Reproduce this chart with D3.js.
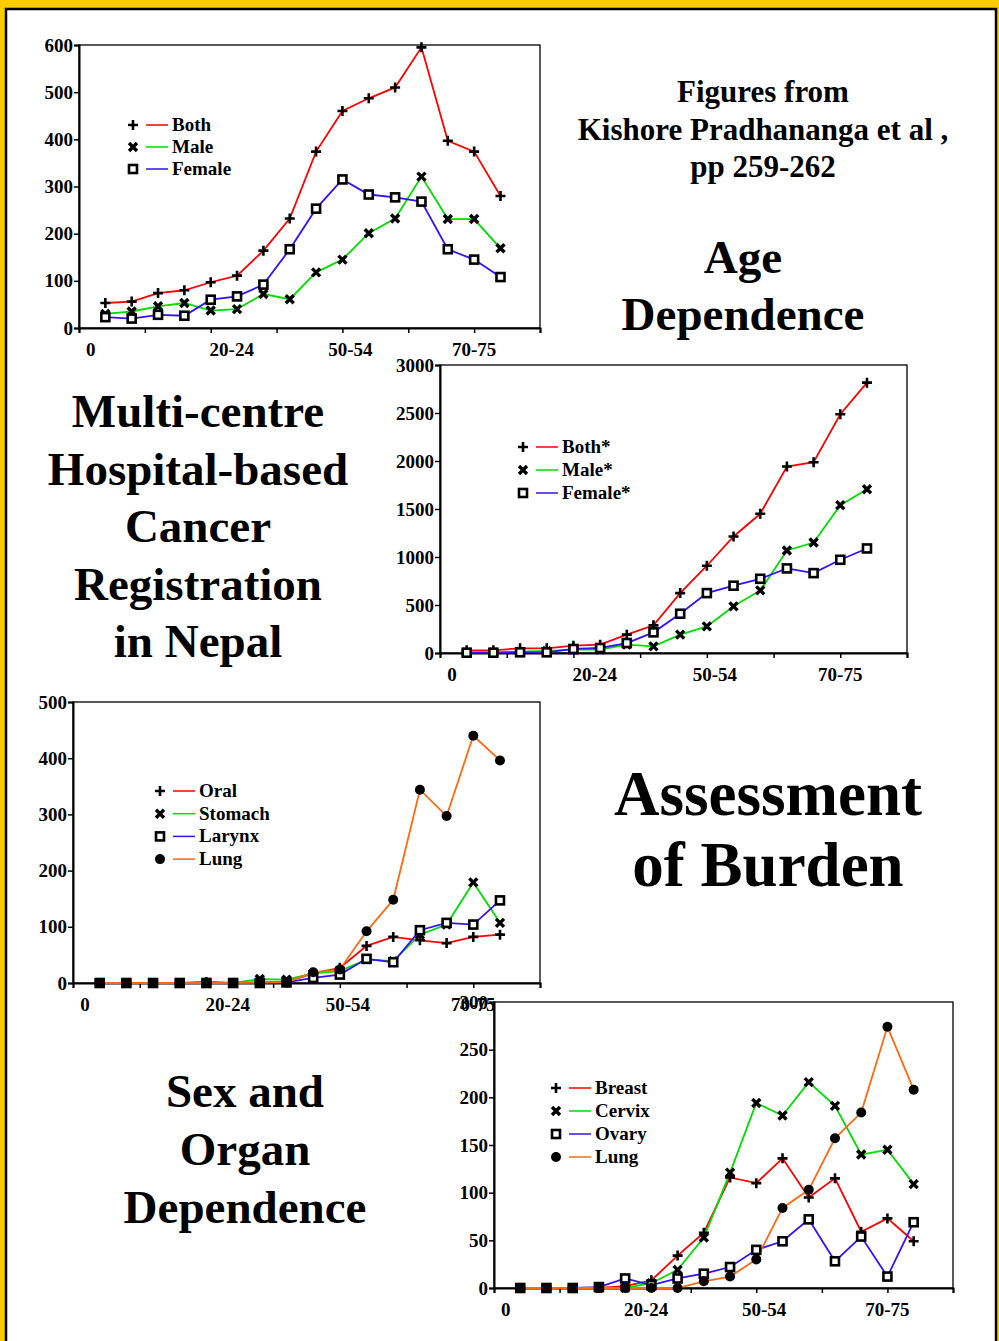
<!DOCTYPE html>
<html>
<head>
<meta charset="utf-8">
<script src="https://cdn.jsdelivr.net/npm/d3@7"></script>
<style>
  body { margin: 0; background: #ffcc00; }
  svg text { font-family: "Liberation Serif", "Times New Roman", serif; font-weight: bold; fill: #000; }
</style>
</head>
<body>
<svg id="slide" width="999" height="1341"></svg>
<script>
// age groups, 16 points per series
const ageLabels = ["0", "20-24", "50-54", "70-75"];
const ageLabelPos = [0.45, 5.8, 10.3, 15.0];

// Age dependence (counts)
const bothCases   = [53, 56, 74, 80, 97, 111, 164, 232, 374, 460, 487, 510, 595, 397, 374, 280];
const maleCases   = [30, 35, 46, 53, 37, 40, 72, 61, 118, 145, 201, 232, 321, 231, 231, 169];
const femaleCases = [23, 20, 28, 26, 60, 67, 92, 167, 253, 315, 283, 277, 268, 167, 145, 108];

// Age dependence (starred series)
const bothStar   = [28, 28, 49, 49, 76, 87, 191, 288, 624, 909, 1214, 1450, 1942, 1987, 2487, 2816];
const maleStar   = [7, 7, 14, 21, 35, 35, 87, 69, 191, 277, 486, 652, 1068, 1151, 1540, 1706];
const femaleStar = [3, 3, 7, 7, 42, 52, 104, 215, 409, 624, 701, 773, 881, 832, 971, 1089];

// Organ dependence, male
const oralM    = [0, 0, 0, 0, 2, 0, 1, 2, 17, 27, 66, 82, 76, 71, 82, 86];
const stomachM = [0, 0, 0, 0, 0, 0, 7, 6, 17, 21, 42, 39, 86, 104, 179, 107];
const larynxM  = [0, 0, 0, 0, 0, 0, 0, 1, 9, 15, 43, 37, 94, 107, 104, 147];
const lungM    = [0, 0, 0, 0, 0, 0, 1, 1, 19, 24, 92, 148, 344, 297, 440, 396];

// Organ dependence, female
const breastF = [0, 0, 0, 0, 2, 8, 34, 58, 116, 110, 136, 95, 115, 59, 73, 49];
const cervixF = [0, 0, 0, 0, 0, 5, 19, 53, 121, 194, 181, 216, 191, 140, 145, 109];
const ovaryF  = [0, 0, 0, 1, 10, 3, 10, 15, 22, 40, 49, 72, 28, 54, 12, 69];
const lungF   = [0, 0, 0, 0, 0, 0, 0, 7, 12, 30, 84, 103, 157, 184, 274, 208];

const RED = "#ff0000", GREEN = "#00dd00", BLUE = "#3311ff", ORANGE = "#ff6a10";

const svg = d3.select("#slide");

/* Frame */
svg.append("rect").attr("width", 999).attr("height", 1341).attr("fill", "#ffcc00");
svg.append("rect")
    .attr("x", 6).attr("y", 9).attr("width", 990).attr("height", 1345)
    .attr("fill", "#fff").attr("stroke", "#000").attr("stroke-width", 2.5);

/* Markers */
function marker(g, type, x, y) {
    if (type === "plus") {
        g.append("path").attr("d", `M${x-5},${y}H${x+5}M${x},${y-5}V${y+5}`)
            .attr("stroke", "#000").attr("stroke-width", 2.6);
    } else if (type === "cross") {
        g.append("path").attr("d", `M${x-4},${y-4}L${x+4},${y+4}M${x-4},${y+4}L${x+4},${y-4}`)
            .attr("stroke", "#000").attr("stroke-width", 3.4);
    } else if (type === "square") {
        g.append("rect").attr("x", x-4).attr("y", y-4).attr("width", 8).attr("height", 8)
            .attr("fill", "#fff").attr("stroke", "#000").attr("stroke-width", 2.6);
    } else {
        g.append("circle").attr("cx", x).attr("cy", y).attr("r", 5).attr("fill", "#000");
    }
}

function drawChart(cfg) {
    const x = d3.scaleLinear().domain([0, 17.5]).range([cfg.left, cfg.right]);
    const y = d3.scaleLinear().domain([0, cfg.yMax]).range([cfg.bottom, cfg.top]);
    const g = svg.append("g");

    g.append("rect")
        .attr("x", cfg.left).attr("y", cfg.top)
        .attr("width", cfg.right - cfg.left).attr("height", cfg.bottom - cfg.top)
        .attr("fill", "none").attr("stroke", "#000").attr("stroke-width", 1.3);

    const xAxis = d3.axisBottom(x).tickValues(d3.range(0, 17.6, 2.5)).tickSize(5).tickFormat("");
    const yAxis = d3.axisLeft(y).tickValues(d3.range(0, cfg.yMax + 1, cfg.yStep))
        .tickSize(5).tickPadding(1).tickFormat(d3.format("d"));

    g.append("g").attr("transform", `translate(0,${cfg.bottom})`).call(xAxis)
        .call(a => a.select(".domain").attr("stroke-width", 2))
        .call(a => a.selectAll(".tick line").attr("stroke-width", 1.5));
    g.append("g").attr("transform", `translate(${cfg.left},0)`).call(yAxis)
        .attr("font-family", null).attr("font-size", null)
        .call(a => a.select(".domain").attr("stroke-width", 2))
        .call(a => a.selectAll(".tick line").attr("stroke-width", 1.5))
        .call(a => a.selectAll("text").style("font-size", "19px").attr("fill", "#000"));

    g.selectAll(".xlab").data(ageLabels).enter().append("text")
        .attr("x", (d, i) => x(ageLabelPos[i]))
        .attr("y", cfg.bottom + 28)
        .attr("text-anchor", "middle").style("font-size", "19px")
        .text(d => d);

    const line = d3.line().x((d, i) => x(i + 1)).y(d => y(d));
    cfg.series.forEach(s => {
        g.append("path").attr("d", line(s.values))
            .attr("fill", "none").attr("stroke", s.color).attr("stroke-width", 1.8);
    });
    cfg.series.forEach(s => {
        s.values.forEach((v, i) => marker(g, s.marker, x(i + 1), y(v)));
    });

    /* legend */
    cfg.series.forEach((s, i) => {
        const ly = cfg.legend.y + i * cfg.legend.dy;
        marker(g, s.marker, cfg.legend.x, ly);
        g.append("line").attr("x1", cfg.legend.x + 13).attr("x2", cfg.legend.x + 35)
            .attr("y1", ly).attr("y2", ly).attr("stroke", s.color).attr("stroke-width", 1.5);
        g.append("text").attr("x", cfg.legend.x + 39).attr("y", ly + 6)
            .style("font-size", "19px").text(s.name);
    });
}

drawChart({
    left: 79, right: 540, top: 45, bottom: 328, yMax: 600, yStep: 100,
    legend: { x: 133, y: 125, dy: 22 },
    series: [
        { name: "Both", values: bothCases, color: RED, marker: "plus" },
        { name: "Male", values: maleCases, color: GREEN, marker: "cross" },
        { name: "Female", values: femaleCases, color: BLUE, marker: "square" }
    ]
});

drawChart({
    left: 440, right: 907, top: 365, bottom: 653, yMax: 3000, yStep: 500,
    legend: { x: 523, y: 447, dy: 23 },
    series: [
        { name: "Both*", values: bothStar, color: RED, marker: "plus" },
        { name: "Male*", values: maleStar, color: GREEN, marker: "cross" },
        { name: "Female*", values: femaleStar, color: BLUE, marker: "square" }
    ]
});

drawChart({
    left: 73, right: 540, top: 702, bottom: 983, yMax: 500, yStep: 100,
    legend: { x: 160, y: 791, dy: 22.7 },
    series: [
        { name: "Oral", values: oralM, color: RED, marker: "plus" },
        { name: "Stomach", values: stomachM, color: GREEN, marker: "cross" },
        { name: "Larynx", values: larynxM, color: BLUE, marker: "square" },
        { name: "Lung", values: lungM, color: ORANGE, marker: "dot" }
    ]
});

drawChart({
    left: 494, right: 953, top: 1002, bottom: 1288, yMax: 300, yStep: 50,
    legend: { x: 556, y: 1088, dy: 23 },
    series: [
        { name: "Breast", values: breastF, color: RED, marker: "plus" },
        { name: "Cervix", values: cervixF, color: GREEN, marker: "cross" },
        { name: "Ovary", values: ovaryF, color: BLUE, marker: "square" },
        { name: "Lung", values: lungF, color: ORANGE, marker: "dot" }
    ]
});

/* Slide titles */
function textBlock(lines, cx, y0, dy, size) {
    lines.forEach((t, i) => {
        svg.append("text").attr("x", cx).attr("y", y0 + i * dy)
            .attr("text-anchor", "middle").style("font-size", size + "px").text(t);
    });
}
textBlock(["Figures from", "Kishore Pradhananga et al ,", "pp 259-262"], 763, 102, 37.5, 31);
textBlock(["Age", "Dependence"], 743, 273, 57, 47);
textBlock(["Multi-centre", "Hospital-based", "Cancer", "Registration", "in Nepal"], 198, 427, 57.5, 47);
textBlock(["Assessment", "of Burden"], 768, 815, 71, 63);
textBlock(["Sex and", "Organ", "Dependence"], 245, 1107, 58, 47);
</script>
</body>
</html>
